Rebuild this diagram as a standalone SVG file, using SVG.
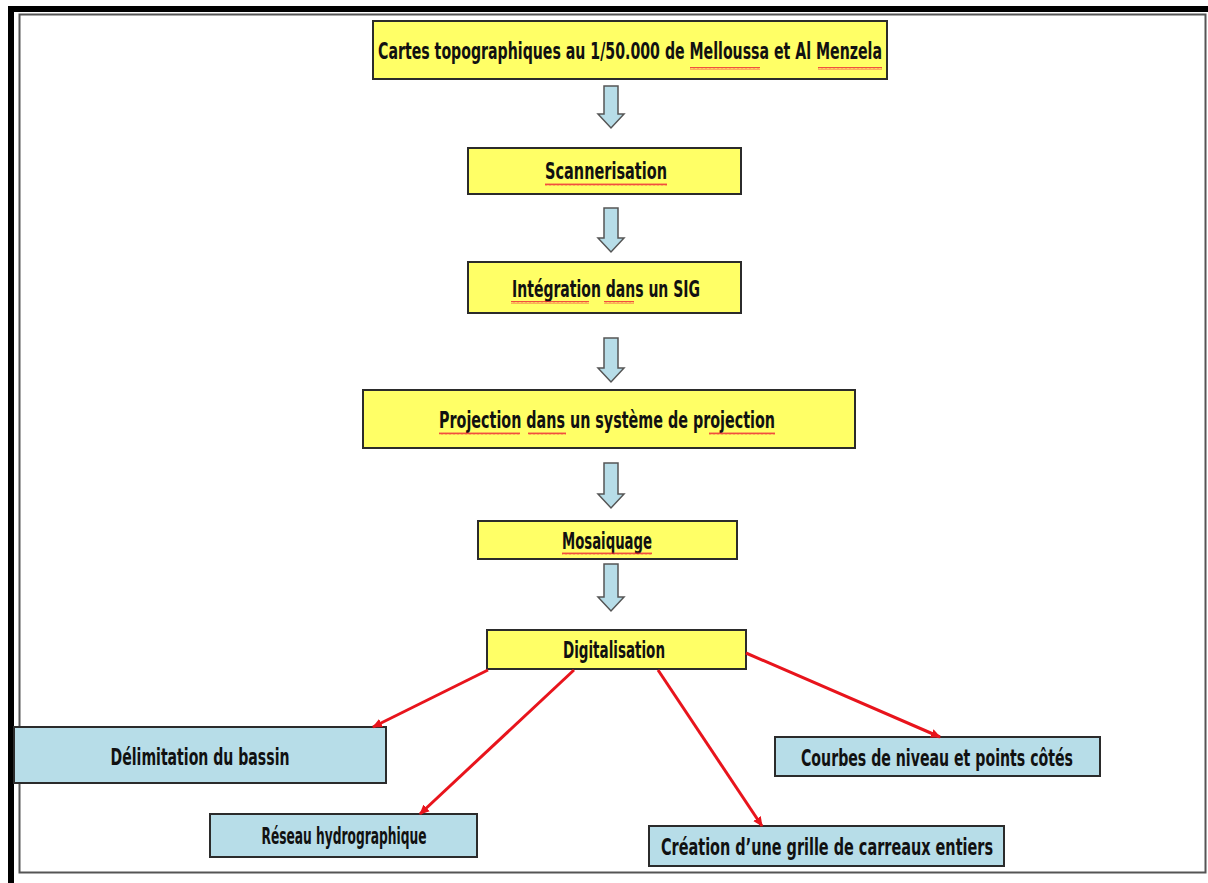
<svg xmlns="http://www.w3.org/2000/svg" width="1208" height="883" viewBox="0 0 1208 883">
<style>
.y{fill:#ffff66;stroke:#2b2b2b;stroke-width:2}
.b{fill:#b7dde8;stroke:#2b2b2b;stroke-width:2}
.t{font-family:"Liberation Sans Narrow","DejaVu Sans Condensed","Liberation Sans",sans-serif;font-weight:bold;font-size:23px;fill:#111;text-anchor:middle}
.ba{fill:#b7dde8;stroke:#555;stroke-width:1.5}
.r{stroke:#e8141c;stroke-width:3;fill:none;marker-end:url(#ah)}
.w{fill:url(#wave)}
</style>
<defs>
<marker id="ah" markerWidth="12" markerHeight="12" refX="9" refY="5.5" orient="auto" markerUnits="userSpaceOnUse">
<path d="M0,1 L10,5.5 L0,10 Z" fill="#e8141c"/>
</marker>
<pattern id="wave" width="4" height="3" patternUnits="userSpaceOnUse">
<path d="M0,2.5 L1,0.5 L2,2.5 L3,0.5 L4,2.5" stroke="#e23" stroke-width="0.8" fill="none"/>
</pattern>
</defs>
<rect width="1208" height="883" fill="#fff"/>
<g id="frame">
<rect x="19.5" y="14.5" width="1186" height="858" fill="none" stroke="#555" stroke-width="2"/>
<rect x="8" y="6" width="1200" height="6" fill="#000"/>
<rect x="8" y="6" width="6" height="877" fill="#000"/>
</g>
<g id="n1">
<rect class="y" x="373" y="21" width="514" height="58"/>
<text class="t" x="630" y="59" textLength="504" lengthAdjust="spacingAndGlyphs">Cartes topographiques au 1/50.000 de Melloussa et Al Menzela</text>
<rect class="w" x="690" y="67" width="70" height="3"/>
<rect class="w" x="818" y="67" width="64" height="3"/>
</g>
<g id="n2">
<rect class="y" x="468" y="148" width="273" height="46"/>
<text class="t" x="606" y="179" textLength="122" lengthAdjust="spacingAndGlyphs">Scannerisation</text>
<rect class="w" x="545" y="183" width="122" height="3"/>
</g>
<g id="n3">
<rect class="y" x="468" y="262" width="273" height="51"/>
<text class="t" x="606" y="297" textLength="188" lengthAdjust="spacingAndGlyphs">Intégration dans un SIG</text>
<rect class="w" x="511" y="301" width="78" height="3"/>
<rect class="w" x="604" y="301" width="30" height="3"/>
</g>
<g id="n4">
<rect class="y" x="363" y="390" width="492" height="58"/>
<text class="t" x="607" y="428" textLength="336" lengthAdjust="spacingAndGlyphs">Projection dans un système de projection</text>
<rect class="w" x="439" y="432" width="81" height="3"/>
<rect class="w" x="528" y="432" width="38" height="3"/>
<rect class="w" x="709" y="432" width="66" height="3"/>
</g>
<g id="n5">
<rect class="y" x="478" y="521" width="259" height="38"/>
<text class="t" x="607" y="549" textLength="90" lengthAdjust="spacingAndGlyphs">Mosaiquage</text>
<rect class="w" x="562" y="552" width="90" height="3"/>
</g>
<g id="n6">
<rect class="y" x="487" y="630" width="259" height="39"/>
<text class="t" x="614" y="658" textLength="102" lengthAdjust="spacingAndGlyphs">Digitalisation</text>
</g>
<g id="n7">
<rect class="b" x="14" y="727" width="372" height="56"/>
<text class="t" x="200" y="765" textLength="179" lengthAdjust="spacingAndGlyphs">Délimitation du bassin</text>
</g>
<g id="n8">
<rect class="b" x="210" y="814" width="267" height="43"/>
<text class="t" x="344" y="844" textLength="165" lengthAdjust="spacingAndGlyphs">Réseau hydrographique</text>
</g>
<g id="n9">
<rect class="b" x="649" y="826" width="355" height="40"/>
<text class="t" x="827" y="855" textLength="332" lengthAdjust="spacingAndGlyphs">Création d’une grille de carreaux entiers</text>
</g>
<g id="n10">
<rect class="b" x="775" y="737" width="325" height="39"/>
<text class="t" x="937" y="766" textLength="272" lengthAdjust="spacingAndGlyphs">Courbes de niveau et points côtés</text>
</g>
<g id="connectors">
<path class="ba" d="M604,86 H618 V114 H624 L611,128 L598,114 H604 Z"/>
<path class="ba" d="M604,208 H618 V238 H624 L611,252 L598,238 H604 Z"/>
<path class="ba" d="M604,338 H618 V368 H624 L611,382 L598,368 H604 Z"/>
<path class="ba" d="M604,463 H618 V494 H624 L611,508 L598,494 H604 Z"/>
<path class="ba" d="M604,564 H618 V597 H624 L611,611 L598,597 H604 Z"/>
<line class="r" x1="488" y1="670" x2="373" y2="727"/>
<line class="r" x1="574" y1="670" x2="420" y2="814"/>
<line class="r" x1="658" y1="670" x2="762" y2="826"/>
<line class="r" x1="746" y1="653" x2="940" y2="737"/>
</g>
</svg>
